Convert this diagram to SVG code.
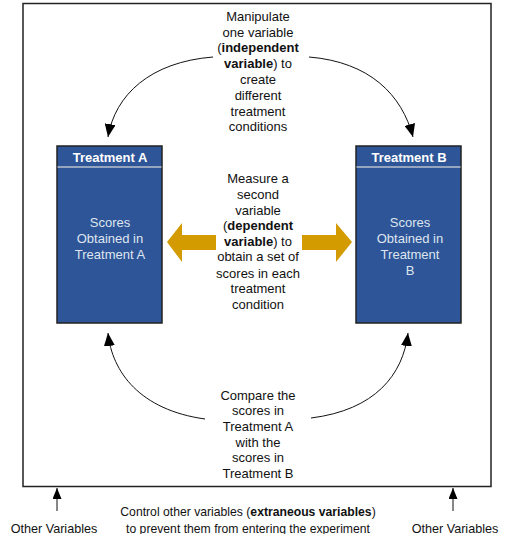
<svg xmlns="http://www.w3.org/2000/svg" width="505" height="534" viewBox="0 0 505 534">
<defs>
<marker id="ah" markerUnits="userSpaceOnUse" markerWidth="13" markerHeight="11" refX="13" refY="5.5" orient="auto">
<path d="M0,0 L13,5.5 L0,11 z" fill="#000"/>
</marker>
<marker id="ahs" markerUnits="userSpaceOnUse" markerWidth="11" markerHeight="9" refX="11" refY="4.5" orient="auto">
<path d="M0,0 L11,4.5 L0,9 z" fill="#000"/>
</marker>
<style>
text{font-family:"Liberation Sans",Arial,sans-serif;font-size:13px;fill:#111;text-anchor:middle}
.b{font-weight:bold}
.hd{font-weight:bold;fill:#fff}
.bx{fill:#2d5597;stroke:#222;stroke-width:1.5}
.bt{fill:#dfe5f0}
.cv{fill:none;stroke:#111;stroke-width:1;marker-end:url(#ah)}
.sm{fill:none;stroke:#111;stroke-width:1;marker-end:url(#ahs)}
.ya{fill:#d39b00}
.ct{font-size:12.2px}
.ov{font-size:12.6px}
</style>
</defs>
<rect x="23" y="3.5" width="468" height="483" fill="#fff" stroke="#222" stroke-width="1.5"/>

<g id="connectors">
<path class="cv" d="M213,57 C150,62 115,95 108,137"/>
<path class="cv" d="M309,57 C370,62 402,95 413,137"/>
<path class="cv" d="M205,419 C140,410 112,372 108,333"/>
<path class="cv" d="M311,418 C375,410 403,375 408,333"/>
<polygon class="ya" points="167,242 182,223 182,235 216,235 216,250 182,250 182,262"/>
<polygon class="ya" points="352,242 336,223 336,235 302,235 302,250 336,250 336,262"/>
<path class="sm" d="M57,511 L57,488"/>
<path class="sm" d="M453,511 L453,488"/>
</g>

<g id="treatmentA">
<rect class="bx" x="57" y="146" width="105" height="177"/>
<line x1="57.5" y1="167" x2="161.5" y2="167" stroke="#b8bfcc" stroke-width="1.5"/>
<text class="hd" x="110" y="161.5">Treatment A</text>
<text class="bt" x="110" y="227">Scores</text>
<text class="bt" x="110" y="243">Obtained in</text>
<text class="bt" x="110" y="258.5">Treatment A</text>
</g>

<g id="treatmentB">
<rect class="bx" x="356" y="146" width="105" height="177"/>
<line x1="356.5" y1="167" x2="460.5" y2="167" stroke="#b8bfcc" stroke-width="1.5"/>
<text class="hd" x="409" y="161.5">Treatment B</text>
<text class="bt" x="410" y="227">Scores</text>
<text class="bt" x="410" y="243">Obtained in</text>
<text class="bt" x="410" y="258.5">Treatment</text>
<text class="bt" x="410" y="274.5">B</text>
</g>

<g id="manipulate">
<text x="258" y="20.5">Manipulate</text>
<text x="258" y="36.5">one variable</text>
<text x="258" y="52"><tspan>(</tspan><tspan class="b">independent</tspan></text>
<text x="258" y="68"><tspan class="b">variable</tspan><tspan>) to</tspan></text>
<text x="258" y="84">create</text>
<text x="258" y="99.5">different</text>
<text x="258" y="115.5">treatment</text>
<text x="258" y="131">conditions</text>
</g>

<g id="measure">
<text x="258" y="182.5">Measure a</text>
<text x="258" y="198.5">second</text>
<text x="258" y="214.5">variable</text>
<text x="258" y="230"><tspan>(</tspan><tspan class="b">dependent</tspan></text>
<text x="258" y="245.5"><tspan class="b">variable</tspan><tspan>) to</tspan></text>
<text x="258" y="261">obtain a set of</text>
<text x="258" y="277.5">scores in each</text>
<text x="258" y="293">treatment</text>
<text x="258" y="309">condition</text>
</g>

<g id="compare">
<text x="258" y="399.5">Compare the</text>
<text x="258" y="415">scores in</text>
<text x="258" y="431">Treatment A</text>
<text x="258" y="446.5">with the</text>
<text x="258" y="462">scores in</text>
<text x="258" y="478">Treatment B</text>
</g>

<g id="control">
<text class="ct" x="248" y="516"><tspan>Control other variables (</tspan><tspan class="b">extraneous variables</tspan><tspan>)</tspan></text>
<text class="ct" x="248" y="532.5">to prevent them from entering the experiment</text>
</g>

<g id="otherLeft">
<text class="ov" x="54" y="532.5">Other Variables</text>
</g>
<g id="otherRight">
<text class="ov" x="455" y="532.5">Other Variables</text>
</g>
</svg>
